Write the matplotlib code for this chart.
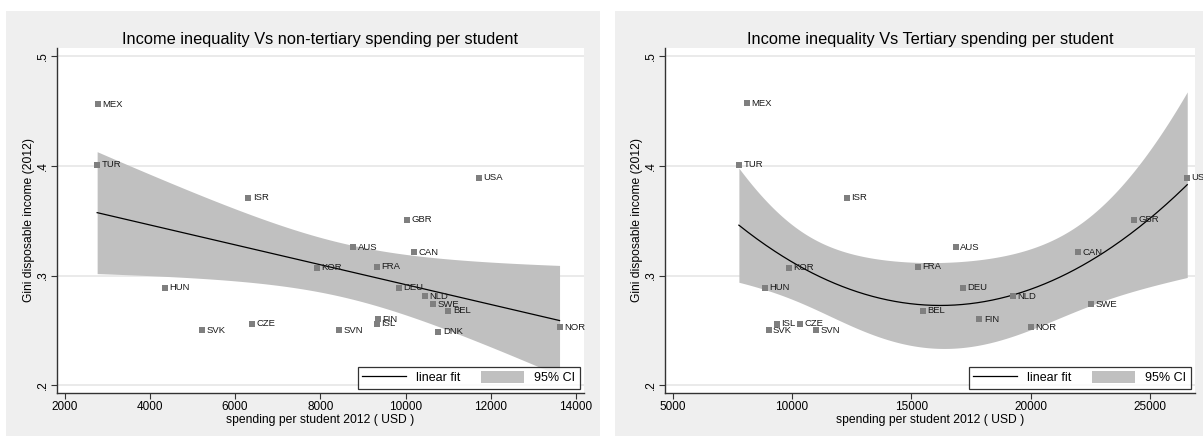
import numpy as np
import matplotlib
matplotlib.use('Agg')
import matplotlib.pyplot as plt
from matplotlib.patches import Rectangle, Patch
from matplotlib.lines import Line2D

plt.rcParams['font.family'] = ['Liberation Sans', 'DejaVu Sans']

# non-tertiary spending per student (USD) vs Gini
countries_nt = ['MEX', 'TUR', 'ISR', 'USA', 'GBR', 'AUS', 'CAN', 'KOR', 'FRA', 'HUN', 'DEU',
                'NLD', 'SWE', 'BEL', 'FIN', 'ISL', 'CZE', 'SVK', 'SVN', 'DNK', 'NOR']
spend_nt = [2791, 2764, 6315, 11726, 10036, 8769, 10207, 7924, 9335, 4355, 9847,
            10459, 10638, 11007, 9353, 9326, 6396, 5218, 8445, 10773, 13614]
gini_nt = [0.456, 0.401, 0.371, 0.389, 0.351, 0.326, 0.321, 0.307, 0.308, 0.289, 0.289,
           0.281, 0.274, 0.268, 0.260, 0.256, 0.256, 0.250, 0.250, 0.249, 0.253]

# tertiary spending per student (USD) vs Gini
countries_t = ['MEX', 'TUR', 'ISR', 'USA', 'GBR', 'AUS', 'CAN', 'KOR', 'FRA', 'HUN',
               'DEU', 'NLD', 'SWE', 'BEL', 'FIN', 'NOR', 'ISL', 'CZE', 'SVK', 'SVN']
spend_t = [8094, 7772, 12300, 26547, 24323, 16845, 21986, 9851, 15266, 8852,
           17151, 19263, 22534, 15475, 17844, 20004, 9367, 10318, 9013, 10995]
gini_t = [0.457, 0.401, 0.371, 0.389, 0.351, 0.326, 0.321, 0.307, 0.308, 0.289,
          0.289, 0.281, 0.274, 0.268, 0.260, 0.253, 0.256, 0.256, 0.250, 0.250]

y_ticks = [0.2, 0.3, 0.4, 0.5]
y_ticklabels = ['.2', '.3', '.4', '.5']

BG = '#efefef'
BAND = '#c0c0c0'
MARK = '#7f7f7f'


def fit_ci(x, y, deg, tval):
    # polynomial fit with 95% CI of the mean prediction (like Stata lfitci/qfitci)
    x = np.asarray(x, float)
    y = np.asarray(y, float)
    X = np.vander(x, deg + 1)
    coef = np.linalg.lstsq(X, y, rcond=None)[0]
    n = len(x)
    resid = y - X @ coef
    s2 = resid @ resid / (n - deg - 1)
    cov = s2 * np.linalg.inv(X.T @ X)
    xs = np.linspace(x.min(), x.max(), 300)
    Xs = np.vander(xs, deg + 1)
    ys = Xs @ coef
    se = np.sqrt(np.einsum('ij,jk,ik->i', Xs, cov, Xs))
    return xs, ys, ys - tval * se, ys + tval * se


def draw_panel(ax, x, y, names, deg, tval, title, xlim, xticks):
    xs, ys, lo, hi = fit_ci(x, y, deg, tval)
    ax.set_facecolor('white')
    for v in y_ticks:
        ax.axhline(v, color='#e6e6e6', lw=1.2, zorder=0)
    ax.fill_between(xs, lo, hi, color=BAND, lw=0, zorder=1)
    ax.plot(xs, ys, color='black', lw=0.9, zorder=2)
    ax.scatter(x, y, marker='s', s=22, color=MARK, lw=0, zorder=3)
    for xi, yi, nm in zip(x, y, names):
        ax.annotate(nm, (xi, yi), xytext=(3.2, 0), textcoords='offset points',
                    fontsize=6.8, color='#1a1a1a', va='center', ha='left',
                    annotation_clip=False, zorder=4)
    ax.set_xlim(*xlim)
    ax.set_ylim(0.193, 0.5073)
    ax.set_xticks(xticks)
    ax.set_yticks(y_ticks)
    ax.set_yticklabels(y_ticklabels, rotation=90, va='center')
    for sp in ['top', 'right']:
        ax.spines[sp].set_visible(False)
    for sp in ['left', 'bottom']:
        ax.spines[sp].set_color('#333333')
        ax.spines[sp].set_linewidth(1.0)
    ax.tick_params(direction='out', length=4, width=0.8, color='#333333',
                   labelsize=8.5, pad=2)
    ax.set_title(title, fontsize=11.8, pad=3)
    ax.set_xlabel('spending per student 2012 ( USD )', fontsize=8.7, labelpad=0.5)
    ax.set_ylabel('Gini disposable income (2012)', fontsize=8.7, labelpad=1)
    handles = [Line2D([], [], color='black', lw=0.9),
               Patch(facecolor=BAND, edgecolor='none')]
    leg = ax.legend(handles, ['linear fit', '95% CI'], loc='lower right', ncol=2,
                    fontsize=9, frameon=True, fancybox=False, borderaxespad=0.35,
                    handlelength=3.5, handleheight=1.0, handletextpad=0.8,
                    columnspacing=1.6, borderpad=0.35)
    leg.get_frame().set_edgecolor('black')
    leg.get_frame().set_linewidth(0.9)
    leg.set_zorder(5)


fig = plt.figure(figsize=(12.03, 4.36), dpi=100)
fig.patch.set_facecolor('white')
fig.patches.append(Rectangle((6 / 1203, 0), 594 / 1203, 425 / 436, transform=fig.transFigure,
                             facecolor=BG, edgecolor='none', zorder=-5))
fig.patches.append(Rectangle((615 / 1203, 0), 588 / 1203, 425 / 436, transform=fig.transFigure,
                             facecolor=BG, edgecolor='none', zorder=-5))

ax1 = fig.add_axes([57 / 1203, 43 / 436, 527 / 1203, 345 / 436])
ax2 = fig.add_axes([665 / 1203, 43 / 436, 530 / 1203, 345 / 436])

draw_panel(ax1, spend_nt, gini_nt, countries_nt, 1, 2.093,
           'Income inequality Vs non-tertiary spending per student',
           (1822, 14188), [2000, 4000, 6000, 8000, 10000, 12000, 14000])
draw_panel(ax2, spend_t, gini_t, countries_t, 2, 2.110,
           'Income inequality Vs Tertiary spending per student',
           (4678, 26872), [5000, 10000, 15000, 20000, 25000])

fig.savefig('out.png', dpi=100)
